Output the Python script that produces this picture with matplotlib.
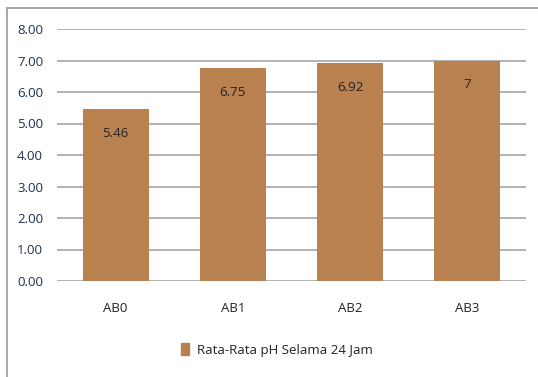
import matplotlib.pyplot as plt
from matplotlib.lines import Line2D
from matplotlib.patches import Rectangle

categories = ["AB0", "AB1", "AB2", "AB3"]
values = [5.46, 6.75, 6.92, 7.0]
value_labels = ["5.46", "6.75", "6.92", "7"]
series_name = "Rata-Rata pH Selama 24 Jam"
yticks = [0, 1, 2, 3, 4, 5, 6, 7, 8]

W, H = 538, 377
fig = plt.figure(figsize=(W / 100, H / 100), dpi=100)
plt.rcParams['font.family'] = ['Open Sans', 'DejaVu Sans']

# chart frame (top and left edges visible)
fig.add_artist(Line2D([7 / W, 1.0], [1 - 8 / H, 1 - 8 / H], color="#9a9a9a", lw=1.2))
fig.add_artist(Line2D([7 / W, 7 / W], [1 - 8 / H, 0.0], color="#9a9a9a", lw=1.2))

ax = fig.add_axes([57 / W, 1 - 281 / H, (526 - 57) / W, (281 - 29) / H])
bar_color = "#BA8150"
x = list(range(len(categories)))
bars = ax.bar(x, values, width=0.565, color=bar_color, zorder=3, label=series_name)
ax.set_xlim(-0.5, len(categories) - 0.5)
ax.set_ylim(0, 8)
ax.set_yticks(yticks)
ax.set_yticklabels([f"{v:.2f}" for v in yticks], color="#1f3050", fontsize=9.5)
ax.set_xticks(x)
ax.set_xticklabels(categories, fontsize=9.5, color="#222222")
ax.tick_params(axis="y", length=0, pad=10)
ax.tick_params(axis="x", length=0, pad=15)
ax.grid(axis="y", color="#a6a6a6", lw=1.2, zorder=0)
for s in ax.spines.values():
    s.set_visible(False)

for b, lbl in zip(bars, value_labels):
    ax.annotate(lbl, (b.get_x() + b.get_width() / 2, b.get_height()),
                xytext=(0, -24), textcoords="offset pixels",
                ha="center", va="center", fontsize=9.5, color="#222222", zorder=4)

leg = fig.legend(handles=[Rectangle((0, 0), 1, 1, color=bar_color)], labels=[series_name],
                 loc="center", bbox_to_anchor=(277 / W, 1 - 350 / H), frameon=False,
                 fontsize=9.5, handlelength=0.55, handleheight=1.0, handletextpad=0.6)
for t in leg.get_texts():
    t.set_color("#222222")

fig.savefig("out.png", dpi=100)
